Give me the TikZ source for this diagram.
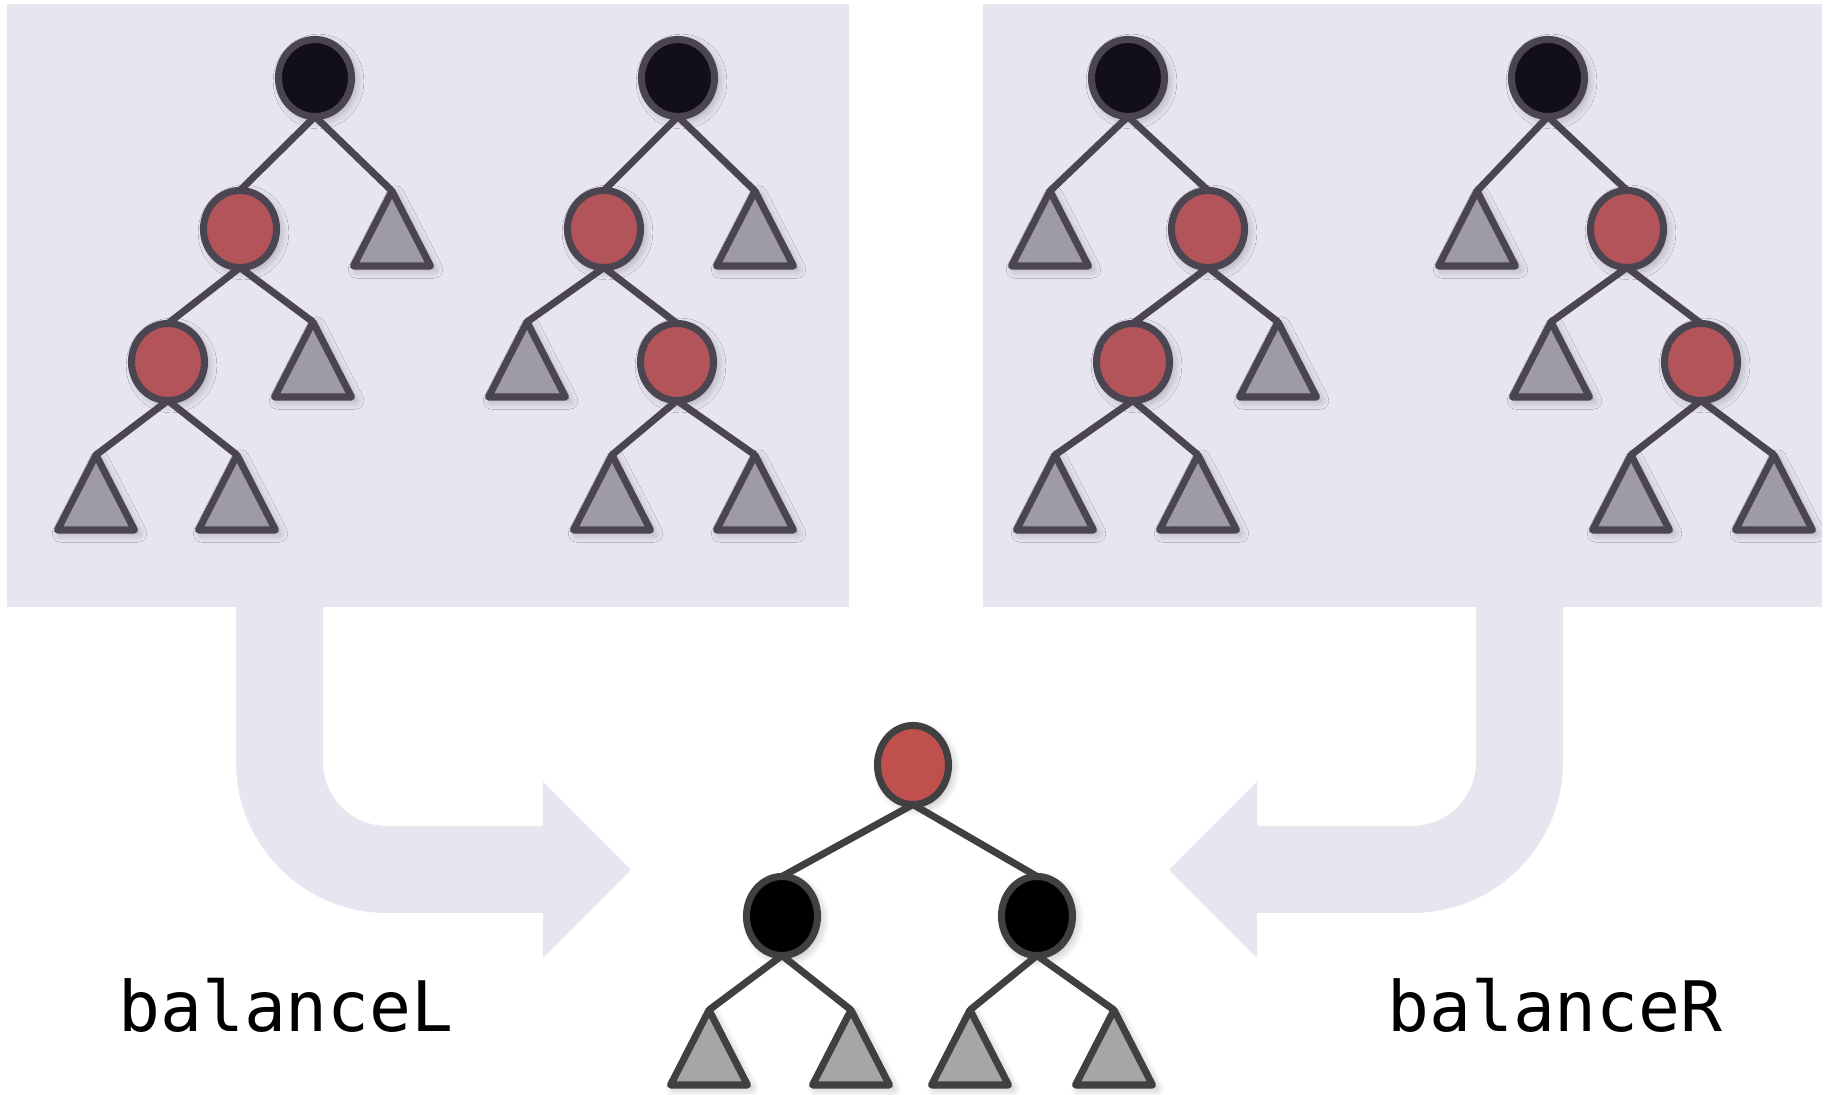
\documentclass[tikz,border=0pt]{standalone}
\usepackage{fontspec}
\setmonofont{DejaVu Sans Mono}
\usepackage{tikz}
\usetikzlibrary{shapes.geometric, shadows.blur}

\definecolor{panelbg}{HTML}{E7E5F0}
\definecolor{oldline}{HTML}{4A4550}
\definecolor{oldblack}{HTML}{120F1A}
\definecolor{oldred}{HTML}{B3535A}
\definecolor{oldleaf}{HTML}{9E9BA6}
\definecolor{newline}{HTML}{404040}
\definecolor{newred}{HTML}{C0504D}
\definecolor{newleaf}{HTML}{A6A6A6}

\tikzset{
    soft shadow/.style={ % faint shadow below right of every shape
        blur shadow={shadow xshift=1pt, shadow yshift=-1pt, shadow blur radius=2.5pt,
                     shadow blur steps=8, shadow opacity=30}
    },
    rbnode/.style={ % sets the common look of the tree nodes
        ellipse, line width=2pt, inner sep=0pt, outer sep=0pt,
        minimum width=0.73cm, minimum height=0.77cm, soft shadow
    },
    oldblack/.style={rbnode, draw=oldline, fill=oldblack},
    oldred/.style={rbnode, draw=oldline, fill=oldred},
    newblack/.style={rbnode, draw=newline, fill=black,
                     minimum width=0.71cm, minimum height=0.79cm},
    newred/.style={rbnode, draw=newline, fill=newred,
                   minimum width=0.71cm, minimum height=0.79cm},
    oldleaf/.style={draw=oldline, fill=oldleaf, line width=2pt, line join=round, soft shadow},
    newleaf/.style={draw=newline, fill=newleaf, line width=2pt, line join=round, soft shadow},
    oldedge/.style={draw=oldline, line width=2pt},
    newedge/.style={draw=newline, line width=2pt},
    fname/.style={font=\ttfamily\fontsize{19.8}{24}\selectfont, anchor=base, inner sep=0pt},
}
% subtree triangle hanging from a named apex: style, name, x, y
\def\leaf[#1]#2#3#4{%
    \coordinate (#2) at (#3,#4);
    \draw[#1] (#2) -- ++(38.5,75) -- ++(-77,0) -- cycle;
}

\begin{document}
\begin{tikzpicture}[x=0.01cm, y=-0.01cm] % one unit is one pixel, y grows downwards
    \useasboundingbox (0,0) rectangle (1829,1095);

    % the two groups of cases and the arrows leaving them
    \fill[panelbg] (7,4) rectangle (849,607);
    \fill[panelbg] (983,4) rectangle (1822,607);
    \fill[panelbg] (236,600) -- (236,762) arc[start angle=180, end angle=90, radius=151]
        -- (543,913) -- (543,958) -- (631,870) -- (543,782) -- (543,826) -- (387,826)
        arc[start angle=90, end angle=180, radius=64] -- (323,600) -- cycle;
    \fill[panelbg] (1563,600) -- (1563,762) arc[start angle=0, end angle=90, radius=151]
        -- (1257,913) -- (1257,958) -- (1169,870) -- (1257,782) -- (1257,826) -- (1412,826)
        arc[start angle=90, end angle=0, radius=64] -- (1476,600) -- cycle;

    % left-left case
    \node[oldblack] (llz) at (315,78)  {};
    \node[oldred]   (lly) at (240,229) {};
    \node[oldred]   (llx) at (168,362) {};
    \leaf[oldleaf]{lld}{392}{191}
    \leaf[oldleaf]{llc}{313}{322}
    \leaf[oldleaf]{lla}{96}{455}
    \leaf[oldleaf]{llb}{237}{455}
    \draw[oldedge] (llz.south) -- (lly.north) (llz.south) -- (lld)
                   (lly.south) -- (llx.north) (lly.south) -- (llc)
                   (llx.south) -- (lla)       (llx.south) -- (llb);

    % left-right case
    \node[oldblack] (lrz) at (678,78)  {};
    \node[oldred]   (lrx) at (604,229) {};
    \node[oldred]   (lry) at (677,362) {};
    \leaf[oldleaf]{lrd}{755}{191}
    \leaf[oldleaf]{lra}{527}{322}
    \leaf[oldleaf]{lrb}{612}{455}
    \leaf[oldleaf]{lrc}{755}{455}
    \draw[oldedge] (lrz.south) -- (lrx.north) (lrz.south) -- (lrd)
                   (lrx.south) -- (lra)       (lrx.south) -- (lry.north)
                   (lry.south) -- (lrb)       (lry.south) -- (lrc);

    % right-left case
    \node[oldblack] (rlx) at (1128,78)  {};
    \node[oldred]   (rlz) at (1208,229) {};
    \node[oldred]   (rly) at (1133,362) {};
    \leaf[oldleaf]{rla}{1050}{191}
    \leaf[oldleaf]{rld}{1278}{322}
    \leaf[oldleaf]{rlb}{1055}{455}
    \leaf[oldleaf]{rlc}{1198}{455}
    \draw[oldedge] (rlx.south) -- (rla)       (rlx.south) -- (rlz.north)
                   (rlz.south) -- (rly.north) (rlz.south) -- (rld)
                   (rly.south) -- (rlb)       (rly.south) -- (rlc);

    % right-right case
    \node[oldblack] (rrx) at (1548,78)  {};
    \node[oldred]   (rry) at (1627,229) {};
    \node[oldred]   (rrz) at (1701,362) {};
    \leaf[oldleaf]{rra}{1477}{191}
    \leaf[oldleaf]{rrb}{1551}{322}
    \leaf[oldleaf]{rrc}{1631}{455}
    \leaf[oldleaf]{rrd}{1774}{455}
    \draw[oldedge] (rrx.south) -- (rra)       (rrx.south) -- (rry.north)
                   (rry.south) -- (rrb)       (rry.south) -- (rrz.north)
                   (rrz.south) -- (rrc)       (rrz.south) -- (rrd);

    % balanced result
    \node[newred]   (y) at (913,765) {};
    \node[newblack] (x) at (782,916) {};
    \node[newblack] (z) at (1037,916) {};
    \leaf[newleaf]{a}{709}{1010}
    \leaf[newleaf]{b}{851}{1010}
    \leaf[newleaf]{c}{970}{1010}
    \leaf[newleaf]{d}{1114}{1010}
    \draw[newedge] (y.south) -- (x.north) (y.south) -- (z.north)
                   (x.south) -- (a)       (x.south) -- (b)
                   (z.south) -- (c)       (z.south) -- (d);

    \node[fname] (balL) at (286,1032) {balanceL};
    \node[fname] (balR) at (1555,1032) {balanceR};
\end{tikzpicture}
\end{document}
